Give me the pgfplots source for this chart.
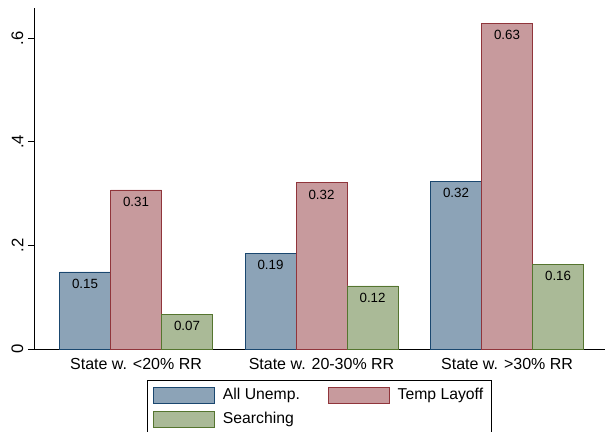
\documentclass[border=0pt]{standalone}
\usepackage{pgfplots}
\pgfplotsset{compat=1.18}
\usepackage{fontspec}
\setmainfont{Liberation Sans}
\definecolor{snavy}{RGB}{26,71,111}
\definecolor{smaroon}{RGB}{144,53,59}
\definecolor{sforest}{RGB}{85,117,47}
\begin{document}
\begin{tikzpicture}
\begin{axis}[
  scale only axis,
  width=428.25pt, height=255.75pt,
  xmin=-0.55, xmax=2.528,
  ymin=0, ymax=0.658,
  axis lines=left,
  axis line style={-, line width=0.6pt},
  ybar=0pt,
  bar width=0.275,
  xtick={0,1,2},
  xticklabels={State w. <20\% RR, State w. 20-30\% RR, State w. >30\% RR},
  x tick style={draw=none},
  xticklabel style={font=\fontsize{12}{14}\selectfont, yshift=1pt},
  ytick={0,0.2,0.4,0.6},
  yticklabels={{0},{.2},{.4},{.6}},
  y tick style={line width=0.6pt, black},
  tick align=outside,
  major tick length=4.5pt,
  yticklabel style={rotate=90, anchor=south, font=\fontsize{12.5}{14}\selectfont},
  nodes near coords,
  point meta=explicit symbolic,
  every node near coord/.append style={anchor=north, yshift=-2pt, font=\fontsize{10}{12}\selectfont, black},
  legend columns=2,
  legend style={at={(0.5,-0.091)}, anchor=north, draw=black, line width=0.6pt,
    font=\fontsize{11.8}{14}\selectfont, inner xsep=4pt, inner ysep=4pt,
    /tikz/every odd column/.append style={column sep=4pt},
    /tikz/every even column/.append style={column sep=19pt},
    row sep=4pt},
  legend cell align=left,
  legend image code/.code={\draw[#1] (0pt,-6pt) rectangle (45.75pt,6pt);},
]
\addplot[fill=snavy!50!white, draw=snavy, line width=0.6pt] coordinates {(0,0.1486)[0.15] (1,0.185)[0.19] (2,0.324)[0.32]};
\addplot[fill=smaroon!50!white, draw=smaroon, line width=0.6pt] coordinates {(0,0.307)[0.31] (1,0.321)[0.32] (2,0.629)[0.63]};
\addplot[fill=sforest!50!white, draw=sforest, line width=0.6pt] coordinates {(0,0.0675)[0.07] (1,0.1216)[0.12] (2,0.164)[0.16]};
\legend{All Unemp., Temp Layoff, Searching}
\end{axis}
\pgfresetboundingbox
\path (-25.5pt,-61.5pt) rectangle (428.25pt,261.75pt);
\end{tikzpicture}
\end{document}
